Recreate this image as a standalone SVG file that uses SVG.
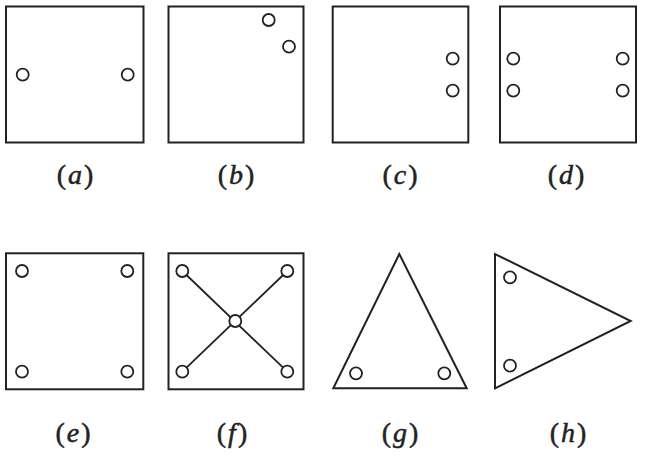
<svg xmlns="http://www.w3.org/2000/svg" width="651" height="465" viewBox="0 0 651 465">
<style>
.sh{fill:#fff;stroke:#222;stroke-width:2}
.c{fill:#fff;stroke:#222;stroke-width:1.8}
.ln{stroke:#222;stroke-width:1.8}
.lb{font-family:"Liberation Serif",serif;font-size:28px;fill:#222;stroke:#222;stroke-width:0.5;letter-spacing:2px;text-anchor:middle}
.it{font-style:italic}
</style>
<rect width="651" height="465" fill="#fff"/>
<g id="a">
<rect class="sh" x="6" y="6.5" width="137.5" height="136"/>
<circle class="c" cx="22.7" cy="74.7" r="6"/>
<circle class="c" cx="127.7" cy="74.7" r="6"/>
<text class="lb" x="76" y="184">(<tspan class="it">a</tspan>)</text>
</g>
<g id="b">
<rect class="sh" x="168.5" y="6.5" width="135" height="136"/>
<circle class="c" cx="268.7" cy="20" r="6"/>
<circle class="c" cx="289" cy="46.7" r="6"/>
<text class="lb" x="237" y="184">(<tspan class="it">b</tspan>)</text>
</g>
<g id="c">
<rect class="sh" x="332.7" y="6.5" width="135.6" height="136"/>
<circle class="c" cx="452.7" cy="58.7" r="6"/>
<circle class="c" cx="452.7" cy="90.7" r="6"/>
<text class="lb" x="401" y="184">(<tspan class="it">c</tspan>)</text>
</g>
<g id="d">
<rect class="sh" x="500" y="6.5" width="136" height="136"/>
<circle class="c" cx="513.3" cy="58.7" r="6"/>
<circle class="c" cx="513.3" cy="90.7" r="6"/>
<circle class="c" cx="622.7" cy="58.7" r="6"/>
<circle class="c" cx="622.7" cy="90.7" r="6"/>
<text class="lb" x="567" y="184">(<tspan class="it">d</tspan>)</text>
</g>
<g id="e">
<rect class="sh" x="6" y="253.3" width="137.3" height="136"/>
<circle class="c" cx="22" cy="271" r="6"/>
<circle class="c" cx="127.3" cy="271" r="6"/>
<circle class="c" cx="22" cy="371.7" r="6"/>
<circle class="c" cx="127.3" cy="371.7" r="6"/>
<text class="lb" x="74" y="442">(<tspan class="it">e</tspan>)</text>
</g>
<g id="f">
<rect class="sh" x="168.5" y="253.3" width="135" height="136"/>
<g id="connectors">
<line class="ln" x1="182.3" y1="271" x2="287.3" y2="371.7"/>
<line class="ln" x1="287.3" y1="271" x2="182.3" y2="371.7"/>
</g>
<circle class="c" cx="182.3" cy="271" r="6"/>
<circle class="c" cx="287.3" cy="271" r="6"/>
<circle class="c" cx="182.3" cy="371.7" r="6"/>
<circle class="c" cx="287.3" cy="371.7" r="6"/>
<circle class="c" cx="235.3" cy="321" r="6"/>
<text class="lb" x="233" y="442">(<tspan class="it">f</tspan>)</text>
</g>
<g id="g">
<polygon class="sh" points="399.3,254 333.3,388.3 466.7,388.3"/>
<circle class="c" cx="356" cy="373.3" r="6"/>
<circle class="c" cx="444.3" cy="373.3" r="6"/>
<text class="lb" x="401" y="442">(<tspan class="it">g</tspan>)</text>
</g>
<g id="h">
<polygon class="sh" points="495,254 495,388.3 630.7,321"/>
<circle class="c" cx="510" cy="277.3" r="6"/>
<circle class="c" cx="510" cy="365.7" r="6"/>
<text class="lb" x="569" y="442">(<tspan class="it">h</tspan>)</text>
</g>
</svg>
